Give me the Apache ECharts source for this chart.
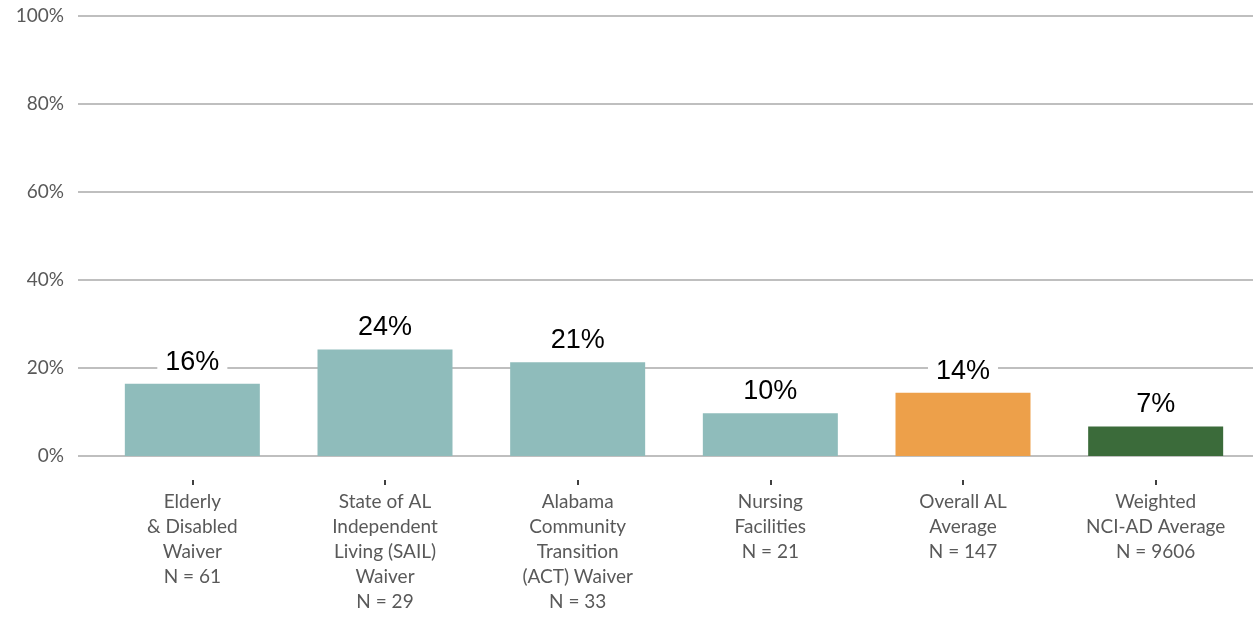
<!DOCTYPE html>
<html>
<head>
<meta charset="utf-8">
<script src="https://cdn.jsdelivr.net/npm/echarts@6/dist/echarts.min.js"></script>
<style>
  html, body { margin: 0; padding: 0; background: #fff; }
  #chart { width: 1255px; height: 617px; }
</style>
</head>
<body>
<div id="chart"></div>
<script>
var categories = [
    'Elderly\n& Disabled\nWaiver\nN = 61',
    'State of AL\nIndependent\nLiving (SAIL)\nWaiver\nN = 29',
    'Alabama\nCommunity\nTransition\n(ACT) Waiver\nN = 33',
    'Nursing\nFacilities\nN = 21',
    'Overall AL\nAverage\nN = 147',
    'Weighted\nNCI-AD Average\nN = 9606'
];
var values = [16.4, 24.2, 21.3, 9.7, 14.4, 6.7];
var barColors = ['#8fbcbb', '#8fbcbb', '#8fbcbb', '#8fbcbb', '#eda04a', '#3b6b3a'];
var yTicks = [0, 20, 40, 60, 80, 100];

var option;
const chart = echarts.init(document.getElementById('chart'));
option = {
    animation: false,
    grid: [
        { left: 78, right: 2, top: 16, bottom: 161 },
        { left: 96, right: 3, top: 16, bottom: 161 },
        // only carries the little ticks that sit below the zero line
        { left: 96, right: 3, top: 16, bottom: 132 }
    ],
    xAxis: [{
        gridIndex: 0,
        type: 'category',
        data: [''],
        show: false
    }, {
        gridIndex: 1,
        type: 'category',
        data: categories,
        axisLine: { show: false },
        axisTick: { show: false },
        axisLabel: {
            interval: 0,
            margin: 33,
            color: '#595959',
            fontFamily: 'Lato',
            fontSize: 19,
            lineHeight: 25
        }
    }, {
        gridIndex: 2,
        type: 'category',
        data: categories,
        axisLine: { show: false },
        axisLabel: { show: false },
        axisTick: {
            show: true,
            inside: true,
            alignWithLabel: true,
            length: 5,
            lineStyle: { color: '#404040', width: 2 }
        }
    }],
    yAxis: [{
        gridIndex: 0,
        type: 'value',
        min: 0,
        max: 100,
        interval: 20,
        axisLine: { show: false },
        axisTick: { show: false },
        axisLabel: {
            margin: 14,
            color: '#595959',
            fontFamily: 'Lato',
            fontSize: 19,
            formatter: function (v) {
                return yTicks.indexOf(v) >= 0 ? v + '%' : '';
            }
        },
        splitLine: {
            show: true,
            lineStyle: { color: '#bfbfbf', width: 2 }
        }
    }, {
        gridIndex: 1,
        type: 'value',
        min: 0,
        max: 100,
        show: false
    }, {
        gridIndex: 2,
        type: 'value',
        min: 0,
        max: 100,
        show: false
    }],
    series: [{
        type: 'bar',
        xAxisIndex: 1,
        yAxisIndex: 1,
        barWidth: 135,
        data: values.map(function (v, i) {
            return { value: v, itemStyle: { color: barColors[i] } };
        }),
        label: {
            show: true,
            position: 'top',
            distance: 6,
            color: '#000',
            fontFamily: 'Liberation Sans',
            fontSize: 27,
            backgroundColor: '#fff',
            padding: [2, 8],
            formatter: function (p) {
                return Math.round(p.value) + '%';
            }
        }
    }]
};
option && chart.setOption(option);
</script>
</body>
</html>
